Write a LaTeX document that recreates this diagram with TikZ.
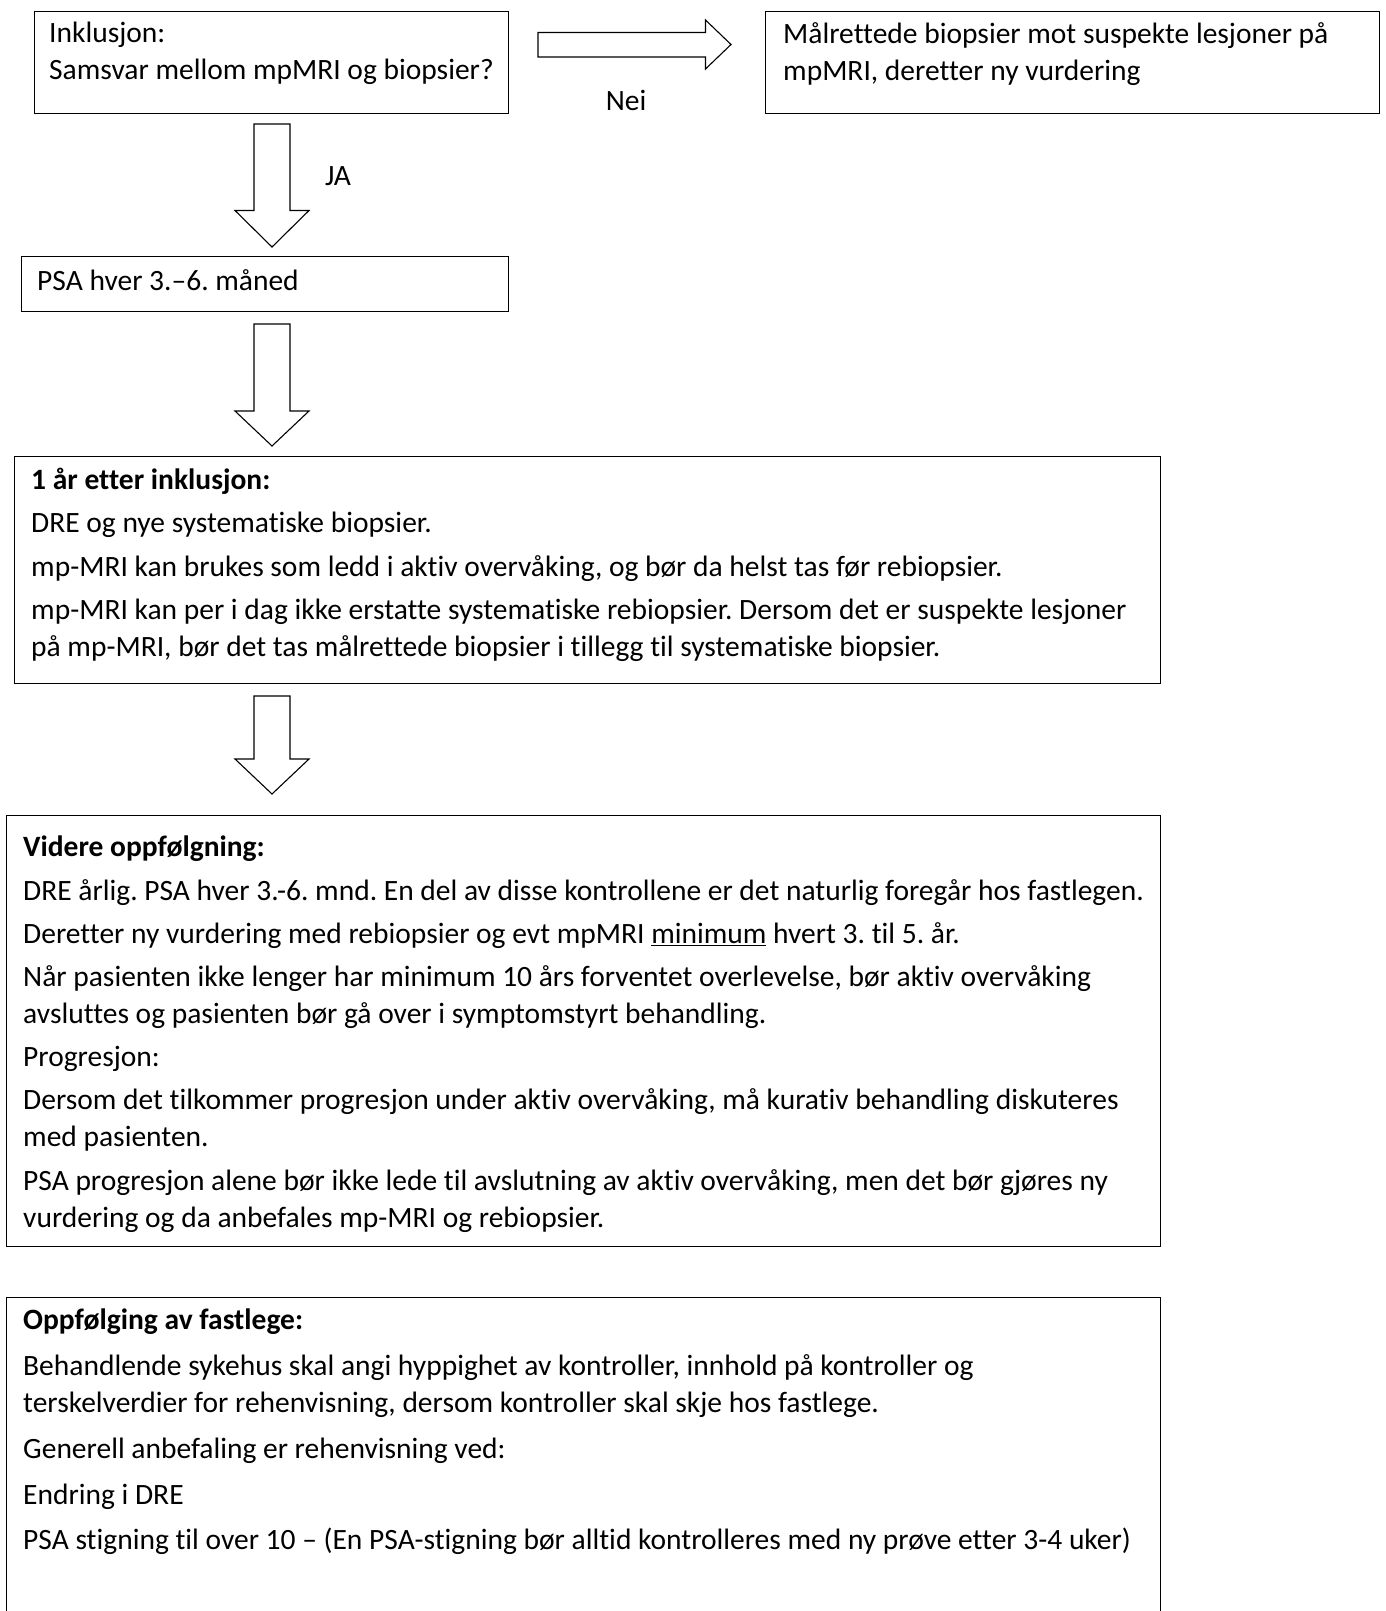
\documentclass[tikz,border=0pt]{standalone}
\usepackage{fontspec}
\setmainfont{Carlito}[Ligatures={NoCommon}]
\frenchspacing
\begin{document}
\begin{tikzpicture}[x=1pt,y=-1pt,
  box/.style={draw=black,line width=1.1pt,rectangle,inner sep=0pt,anchor=north west},
  txt/.style={anchor=base west,inner sep=0pt,align=left,font=\fontsize{29.5}{37}\selectfont},
  lbl/.style={inner sep=0pt,font=\fontsize{29.5}{37}\selectfont},
  blk/.style={draw=black,line width=1.1pt,fill=white,line join=miter}]
\clip (0,0) rectangle (1385,1611);
\useasboundingbox (0,0) rectangle (1385,1611);
% boxes
\node[box,minimum width=474pt,minimum height=102pt] (b1) at (34,11) {};
\node[box,minimum width=614pt,minimum height=102pt] (b2) at (765,11) {};
\node[box,minimum width=487pt,minimum height=55pt] (psa) at (21,256) {};
\node[box,minimum width=1146pt,minimum height=227pt] (b3) at (14,456) {};
\node[box,minimum width=1154pt,minimum height=431pt] (b4) at (6,815) {};
\node[box,minimum width=1154pt,minimum height=360pt] (b5) at (6,1297) {};
% texts (anchored at the baseline of the last line)
\node[txt] (t1) at (49,80) {Inklusjon:\\Samsvar mellom mpMRI og biopsier?};
\node[txt] (t2) at (783,81) {Målrettede biopsier mot suspekte lesjoner på\\mpMRI, deretter ny vurdering};
\node[txt] (tpsa) at (37,290) {PSA hver 3.–6. måned};
\node[txt] (t3) at (31,656.5) {\textbf{1 år etter inklusjon:}\\[6.5pt]
DRE og nye systematiske biopsier.\\[6.5pt]
mp-MRI kan brukes som ledd i aktiv overvåking, og bør da helst tas før rebiopsier.\\[6.5pt]
mp-MRI kan per i dag ikke erstatte systematiske rebiopsier. Dersom det er suspekte lesjoner\\
på mp-MRI, bør det tas målrettede biopsier i tillegg til systematiske biopsier.};
\node[txt] (t4) at (23,1227) {\textbf{Videre oppfølgning:}\\[6.2pt]
DRE årlig. PSA hver 3.-6. mnd. En del av disse kontrollene er det naturlig foregår hos fastlegen.\\[6.2pt]
Deretter ny vurdering med rebiopsier og evt mpMRI \underline{minimum} hvert 3. til 5. år.\\[6.2pt]
Når pasienten ikke lenger har minimum 10 års forventet overlevelse, bør aktiv overvåking\\
avsluttes og pasienten bør gå over i symptomstyrt behandling.\\[6.2pt]
Progresjon:\\[6.2pt]
Dersom det tilkommer progresjon under aktiv overvåking, må kurativ behandling diskuteres\\
med pasienten.\\[6.2pt]
PSA progresjon alene bør ikke lede til avslutning av aktiv overvåking, men det bør gjøres ny\\
vurdering og da anbefales mp-MRI og rebiopsier.};
\node[txt] (t5) at (23,1549) {\textbf{Oppfølging av fastlege:}\\[9pt]
Behandlende sykehus skal angi hyppighet av kontroller, innhold på kontroller og\\
terskelverdier for rehenvisning, dersom kontroller skal skje hos fastlege.\\[9pt]
Generell anbefaling er rehenvisning ved:\\[9pt]
Endring i DRE\\[8pt]
PSA stigning til over 10 – (En PSA-stigning bør alltid kontrolleres med ny prøve etter 3-4 uker)};
% labels
\node[lbl] (nei) at (626,100) {Nei};
\node[lbl] (ja) at (338,176) {JA};
% block arrows
\draw[blk] (538,32.5) -- (705.5,32.5) -- (705.5,20) -- (731,44.5) -- (705.5,69) -- (705.5,57) -- (538,57) -- cycle;
\draw[blk] (254,124) -- (290,124) -- (290,210.5) -- (309,210.5) -- (272,247) -- (235,210.5) -- (254,210.5) -- cycle;
\draw[blk] (254,324) -- (290,324) -- (290,411) -- (309,411) -- (272,446) -- (235,411) -- (254,411) -- cycle;
\draw[blk] (254,696) -- (290,696) -- (290,759) -- (309,759) -- (272,794) -- (235,759) -- (254,759) -- cycle;
\end{tikzpicture}
\end{document}
